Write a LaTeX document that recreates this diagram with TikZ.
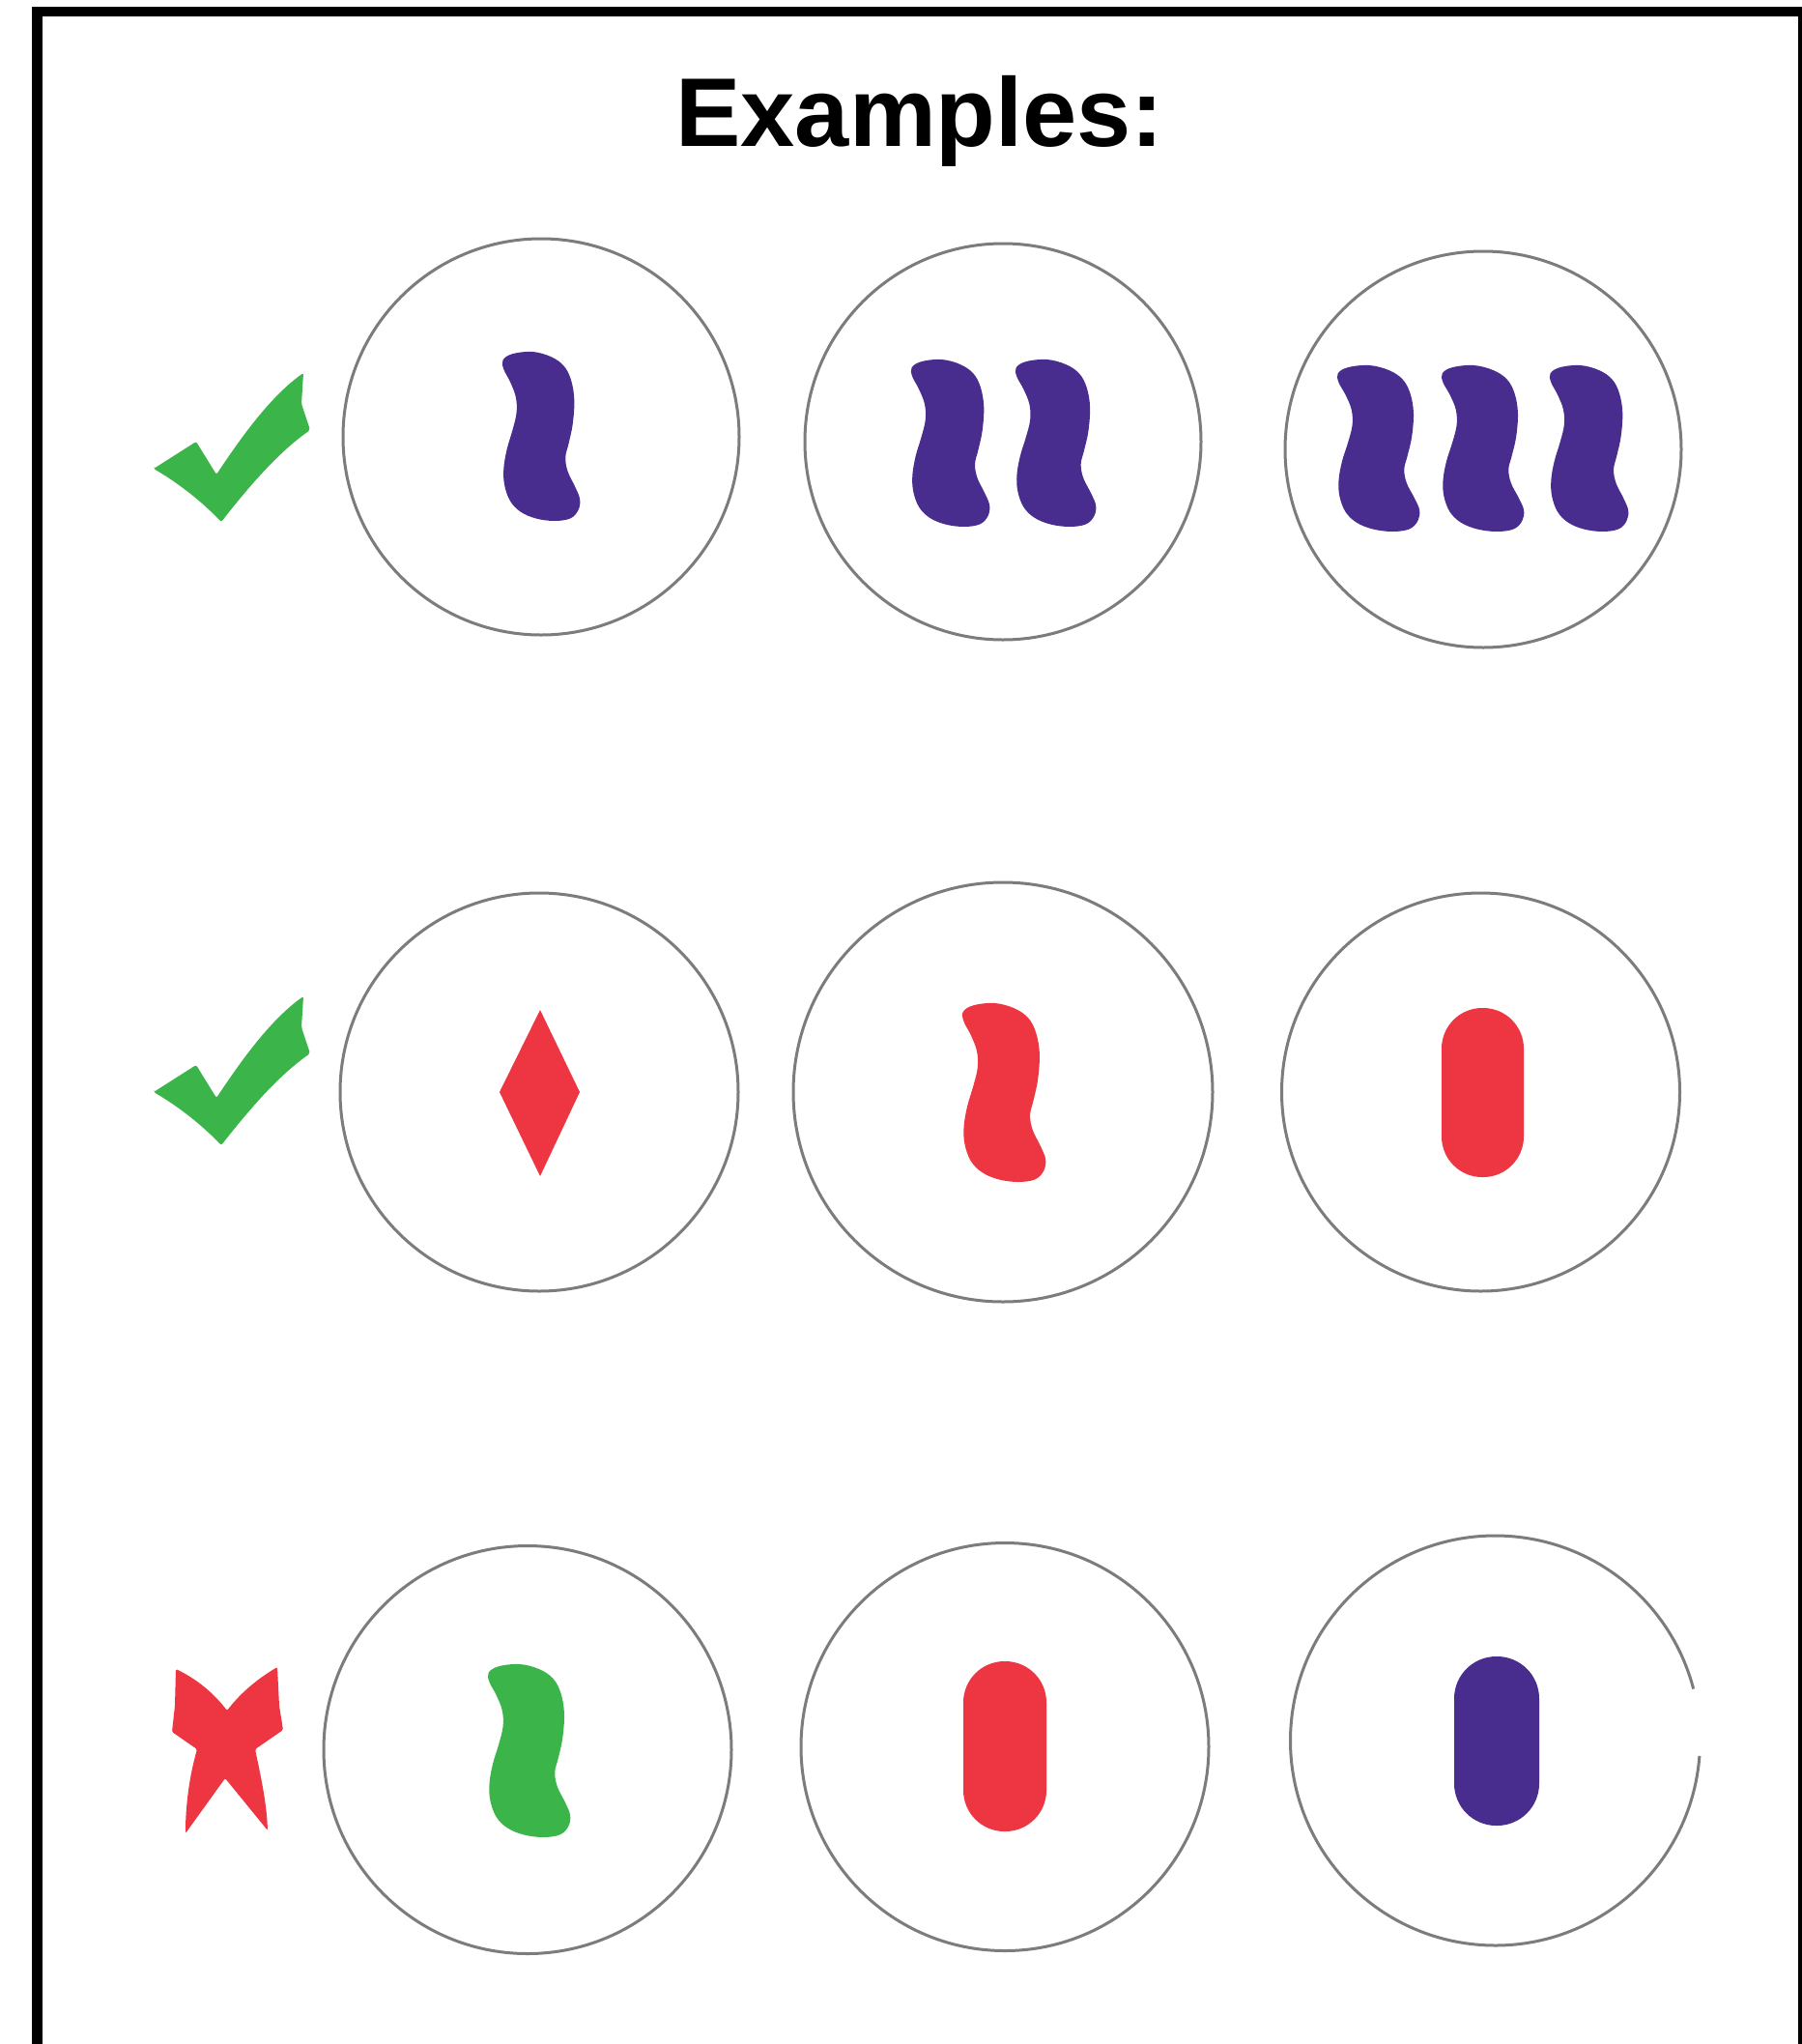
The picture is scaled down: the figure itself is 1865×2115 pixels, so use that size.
\documentclass[tikz,border=0pt]{standalone}
\usepackage{fontspec}
\setmainfont{Liberation Sans}
\definecolor{ckgreen}{HTML}{3BB54A}
\definecolor{xred}{HTML}{EE3643}
\definecolor{chpurple}{HTML}{482D8E}
\definecolor{ringgray}{HTML}{7C7C7C}
\newcommand\squig[5]{% x, y (top-left), width, height, colour
  \begin{scope}[shift={(#1,#2)}, xscale=#3, yscale=#4/2.03]
    \fill[#5] plot[smooth cycle, tension=0.6] coordinates {
      (0.03,0.10) (0.15,0.025) (0.40,0.00) (0.63,0.06) (0.79,0.17) (0.88,0.34)
      (0.92,0.58) (0.90,0.87) (0.85,1.10) (0.81,1.27) (0.84,1.44) (0.93,1.62)
      (0.99,1.77) (0.97,1.90) (0.87,2.00) (0.67,2.03) (0.44,2.00) (0.25,1.92)
      (0.12,1.79) (0.05,1.60) (0.04,1.40) (0.08,1.17) (0.15,0.94) (0.20,0.73)
      (0.19,0.54) (0.12,0.36) (0.04,0.21)};
  \end{scope}}
\newcommand\stadium[5]{% x, y, w, h, colour
  \fill[#5, rounded corners=#3/2*1pt-0.5pt] (#1,#2) rectangle ++(#3,#4);}
\newcommand\checkmk[1]{% vertical offset
  \begin{scope}[yshift=-#1pt]
    \fill[ckgreen, rounded corners=2pt] (159,485) -- (203,457) -- (224,491)
      .. controls (250,452) and (280,410) .. (314,386)
      -- (312,418) -- (321,445)
      .. controls (288,468) and (258,503) .. (229,540)
      .. controls (210,520) and (185,500) .. (159,485) -- cycle;
  \end{scope}}
\begin{document}
\begin{tikzpicture}[x=1pt,y=-1pt,
  ring/.style={circle, draw=ringgray, line width=3pt, inner sep=0pt, minimum size=#1},
  ringnodraw/.style={circle, inner sep=0pt, minimum size=#1}]
\useasboundingbox (0,0) rectangle (1865,2115);
\clip (0,0) rectangle (1865,2115);
\fill[white] (0,0) rectangle (1865,2115);
% frame
\draw[line width=10.8pt] (38.8,2140) -- (38.8,12) -- (1866.5,12) -- (1866.5,2140);
% title
\node[font=\bfseries\fontsize{101}{112}\selectfont, anchor=base, inner sep=0pt] (title) at (952,151) {Examples:};
% row 1
\node[ring=410pt] (c11) at (560,452) {};
\node[ring=410pt] (c12) at (1038,457) {};
\node[ring=410pt] (c13) at (1535,465) {};
\checkmk{0}
\squig{518}{364}{83}{175}{chpurple}
\squig{941}{372}{84}{173}{chpurple}
\squig{1049}{372}{86}{173}{chpurple}
\squig{1382}{378}{88}{172}{chpurple}
\squig{1490}{378}{88}{172}{chpurple}
\squig{1602}{378}{84}{172}{chpurple}
% row 2
\node[ring=412pt] (c21) at (558,1130) {};
\node[ring=434pt] (c22) at (1038,1130) {};
\node[ring=412pt] (c23) at (1532.5,1130) {};
\checkmk{645}
\fill[xred] (559,1045) -- (600,1130) -- (559,1217) -- (517,1130) -- cycle;
\squig{994}{1038}{89}{185}{xred}
\stadium{1492}{1043}{85}{175}{xred}
% row 3
\node[ring=422pt] (c31) at (546,1810.5) {};
\node[ring=422pt] (c32) at (1040,1807.5) {};
\node[ringnodraw=424pt] (c33) at (1547.5,1801) {};
\draw[ringgray, line width=3pt] (c33.center) ++(4.3:212) arc[start angle=4.3, end angle=345.4, radius=212];
\fill[xred, rounded corners=1.5pt] (182,1727) .. controls (205,1738) and (222,1753) .. (235,1770)
  .. controls (248,1753) and (265,1738) .. (287,1725)
  -- (289,1765) -- (293,1790) -- (264,1810)
  .. controls (270,1838) and (276,1866) .. (277,1894)
  -- (233,1840) -- (192,1897)
  .. controls (192,1868) and (196,1838) .. (204,1810)
  -- (178,1792) -- (181,1765) -- cycle;
\squig{503}{1722}{88}{179}{ckgreen}
\stadium{997}{1719}{86}{176}{xred}
\stadium{1505}{1714}{88}{175}{chpurple}
\end{tikzpicture}
\end{document}
